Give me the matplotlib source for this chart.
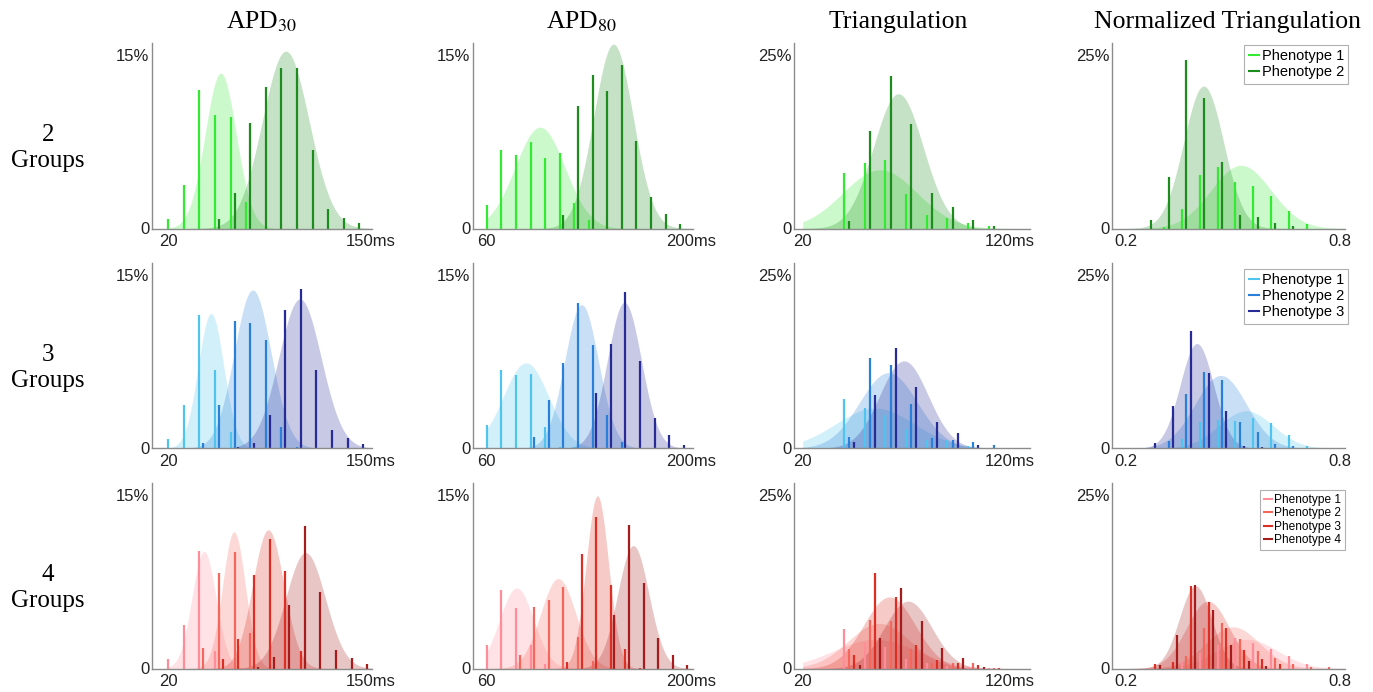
import numpy as np
import matplotlib
matplotlib.use('Agg')
import matplotlib.pyplot as plt
from matplotlib.lines import Line2D

plt.rcParams['font.family'] = ['Liberation Sans', 'DejaVu Sans']
plt.rcParams['mathtext.fontset'] = 'stix'

# bin positions (first phenotype) for each measure
apd30_bins = [20, 30, 40, 50, 60, 70, 80, 90, 100, 110, 120, 130, 140]
apd80_bins = [60, 70, 80, 90, 100, 110, 120, 130, 140, 150, 160, 170, 180, 190]
tri_bins = [40, 50, 60, 70, 80, 90, 100, 110]
ntri_bins = [0.257, 0.307, 0.357, 0.407, 0.457, 0.507, 0.557, 0.607, 0.657, 0.707, 0.757]

# bar heights in %, one list per phenotype
g2_apd30 = [[0.83, 3.79, 11.95, 9.8, 9.6, 2.3, 0, 0, 0, 0, 0, 0, 0],
            [0, 0, 0, 0.8, 3.1, 9.08, 12.2, 13.85, 13.85, 6.78, 1.7, 0.92, 0.49]]
g2_apd80 = [[2.07, 6.78, 6.35, 7.44, 6.12, 6.5, 2.2, 0.72, 0, 0, 0, 0, 0, 0],
            [0, 0, 0, 0, 0, 1.2, 10.6, 13.2, 11.87, 14.1, 7.56, 2.7, 1.26, 0.37]]
g2_tri = [[8.06, 9.41, 9.85, 5.0, 1.88, 1.54, 0.82, 0.34],
          [1.06, 14.0, 21.96, 15.1, 5.1, 3.1, 1.2, 0.43]]
g2_ntri = [[0, 0.2, 2.85, 7.7, 8.9, 6.67, 6.1, 4.7, 2.5, 0.58, 0],
           [1.2, 7.4, 24.2, 18.8, 9.6, 1.93, 1.6, 0.77, 0.34, 0, 0]]

g3_apd30 = [[0.78, 3.76, 11.47, 6.75, 1.45, 0, 0, 0, 0, 0, 0, 0, 0],
            [0, 0, 0.43, 3.76, 10.98, 10.8, 9.35, 1.88, 0.1, 0, 0, 0, 0],
            [0, 0, 0, 0, 0.1, 0.5, 2.84, 11.96, 13.76, 6.75, 1.62, 0.87, 0.38]]
g3_apd80 = [[2.03, 6.78, 6.37, 6.43, 1.85, 0.15, 0.15, 0, 0, 0, 0, 0, 0, 0],
            [0, 0, 0, 0.98, 4.2, 7.33, 12.57, 8.92, 2.9, 0.52, 0, 0, 0, 0],
            [0, 0, 0, 0, 0, 0, 0, 4.8, 9.0, 13.5, 7.53, 2.64, 1.16, 0.29]]
g3_tri = [[7.17, 5.78, 4.83, 2.77, 1.24, 1.24, 0.38, 0.1],
          [1.67, 13.05, 11.95, 6.45, 1.43, 1.2, 0.96, 0.53],
          [0.96, 7.65, 14.48, 8.8, 3.73, 2.25, 0.48, 0.05]]
g3_ntri = [[0, 0, 1.39, 3.73, 4.1, 3.97, 4.35, 3.6, 1.96, 0.38, 0],
           [0, 1.1, 7.8, 11.04, 9.85, 3.73, 2.4, 0.62, 0.38, 0, 0],
           [0.76, 6.1, 16.9, 10.8, 5.4, 0.38, 0.19, 0, 0, 0, 0]]

g4_apd30 = [[0.78, 3.76, 10.17, 1.53, 0, 0, 0, 0, 0, 0, 0, 0, 0],
            [0, 0, 1.77, 8.2, 10.05, 3.04, 0, 0, 0, 0, 0, 0, 0],
            [0, 0, 0, 0.78, 2.52, 8.05, 11.2, 8.4, 1.48, 0, 0, 0, 0],
            [0, 0, 0, 0, 0, 0.14, 0.96, 5.44, 12.3, 6.6, 1.59, 0.87, 0.38]]
g4_apd80 = [[2.03, 6.78, 5.19, 2.06, 0.4, 0, 0, 0, 0, 0, 0, 0, 0, 0],
            [0, 0, 1.13, 5.3, 5.93, 7.04, 2.72, 0.67, 0, 0, 0, 0, 0, 0],
            [0, 0, 0, 0, 0, 0.58, 9.9, 13.06, 7.18, 1.71, 0.06, 0, 0, 0],
            [0, 0, 0, 0, 0, 0, 0, 0, 4.6, 12.34, 7.39, 2.64, 1.16, 0.29]]
g4_tri = [[5.74, 3.63, 3.15, 1.43, 0.86, 0.38, 0.19, 0.05],
          [2.77, 6.98, 6.79, 2.87, 0.86, 0.86, 0.72, 0.1],
          [1.91, 13.72, 10.28, 3.35, 1.24, 0.72, 0.48, 0.05],
          [0.48, 4.35, 11.6, 6.79, 2.96, 1.58, 0.19, 0]]
g4_ntri = [[0, 0, 0.91, 2.16, 3.37, 4.42, 3.7, 2.74, 1.78, 0.58, 0],
           [0, 0, 1.78, 5.82, 6.49, 4.18, 2.5, 1.44, 0.58, 0.24, 0.24],
           [0.58, 0.91, 11.83, 9.62, 5.77, 2.64, 1.3, 0.58, 0, 0, 0],
           [0.53, 4.86, 12.02, 8.41, 3.37, 1.06, 0.3, 0, 0, 0, 0]]

# fitted normal curves: (mean, sd, peak %)
g2_apd30_fit = [(53.6, 10, 13.4), (95.3, 15, 15.3)]
g2_apd80_fit = [(96.5, 17, 8.74), (146.8, 13.5, 15.9)]
g2_tri_fit = [(57.4, 18, 8.45), (66.3, 12, 19.4)]
g2_ntri_fit = [(0.523, 0.084, 9.1), (0.418, 0.056, 20.5)]

g3_apd30_fit = [(47.4, 8.2, 11.64), (74.1, 11.8, 13.67), (104.4, 13.6, 12.9)]
g3_apd80_fit = [(86.9, 15.5, 7.38), (125, 11.6, 12.4), (154.3, 11.6, 12.6)]
g3_tri_fit = [(55, 19, 5.8), (61.5, 14, 10.9), (69, 11.7, 12.6)]
g3_ntri_fit = [(0.537, 0.076, 5.4), (0.466, 0.072, 10.5), (0.399, 0.047, 15.1)]

g4_apd30_fit = [(42.9, 7.7, 10.1), (62.1, 7.3, 11.8), (84.1, 10, 11.96), (108, 12.7, 10)]
g4_apd80_fit = [(80.5, 11.6, 6.95), (109, 12.1, 7.76), (135.8, 7.7, 14.9), (160.4, 10.7, 10.6)]
g4_tri_fit = [(55, 20, 4.2), (57, 15, 6.5), (62, 12.5, 10.3), (71, 11.5, 9.7)]
g4_ntri_fit = [(0.54, 0.085, 4.2), (0.5, 0.075, 6.0), (0.43, 0.06, 9.7), (0.395, 0.045, 11.9)]

titles = ['APD$_{30}$', 'APD$_{80}$', 'Triangulation', 'Normalized Triangulation']
row_labels = ['2\nGroups', '3\nGroups', '4\nGroups']
xtick_vals = [(20, 150), (60, 200), (20, 120), (0.2, 0.8)]
xtick_text = [('20', '150ms'), ('60', '200ms'), ('20', '120ms'), ('0.2', '0.8')]
ytick_top = [15, 15, 25, 25]

green = ['#33ea33', '#1c8c1c']
blue = ['#4ec4ef', '#2a80d8', '#272b96']
red = ['#ff8c99', '#f4675c', '#dc2e22', '#a61c1c']
row_colors = [green, blue, red]

col_bins = [apd30_bins, apd80_bins, tri_bins, ntri_bins]
heights = [[g2_apd30, g2_apd80, g2_tri, g2_ntri],
           [g3_apd30, g3_apd80, g3_tri, g3_ntri],
           [g4_apd30, g4_apd80, g4_tri, g4_ntri]]
fits = [[g2_apd30_fit, g2_apd80_fit, g2_tri_fit, g2_ntri_fit],
        [g3_apd30_fit, g3_apd80_fit, g3_tri_fit, g3_ntri_fit],
        [g4_apd30_fit, g4_apd80_fit, g4_tri_fit, g4_ntri_fit]]

# layout (pixels)
W, H = 1373, 692
col_px = [(152, 372), (473, 693), (794, 1030), (1112, 1345)]
row_px = [(43, 228.5), (263, 448.3), (483, 668.5)]
xlims = [(9.55, 150.6), (50.6, 201.3), (15.8, 130), (0.1606, 0.815)]
ylims = [16.0, 16.0, 26.7, 26.7]
title_x = [262, 582, 898, 1228]
label_y = [148, 368, 588]

fig = plt.figure(figsize=(W / 100, H / 100), dpi=100)

for r in range(3):
    colors = row_colors[r]
    for c in range(4):
        x0, x1 = col_px[c]
        y0, y1 = row_px[r]
        ax = fig.add_axes([x0 / W, 1 - y1 / H, (x1 - x0) / W, (y1 - y0) / H])
        bins = np.array(col_bins[c])
        step = bins[1] - bins[0]
        xs = np.linspace(xtick_vals[c][0], xlims[c][1], 400)
        # fitted curves behind the bars
        for i, (mu, sd, pk) in enumerate(fits[r][c]):
            ax.fill_between(xs, 0, pk * np.exp(-0.5 * ((xs - mu) / sd) ** 2),
                            color=colors[i], alpha=0.25, lw=0)
        # thin histogram bars, each phenotype shifted by a quarter bin
        for i, h in enumerate(heights[r][c]):
            h = np.array(h)
            keep = h > 0
            ax.vlines((bins + i * step * 0.25)[keep], 0, h[keep], color=colors[i],
                      lw=1.6, capstyle='butt')
        ax.set_xlim(*xlims[c])
        ax.set_ylim(0, ylims[c])
        ax.set_xticks(xtick_vals[c])
        ax.set_xticklabels(xtick_text[c])
        ax.set_yticks([0, ytick_top[c]])
        ax.set_yticklabels(['0', '%d%%' % ytick_top[c]])
        ax.tick_params(length=0, labelsize=12, colors='#222222')
        ax.tick_params(axis='x', pad=4)
        ax.tick_params(axis='y', pad=2)
        for s in ['top', 'right']:
            ax.spines[s].set_visible(False)
        for s in ['left', 'bottom']:
            ax.spines[s].set_color('#8c8c8c')
            ax.spines[s].set_linewidth(1.0)
        ax.patch.set_alpha(0)

        if c == 3:
            handles = [Line2D([0], [0], color=colors[i], lw=1.5) for i in range(len(colors))]
            labels = ['Phenotype %d' % (i + 1) for i in range(len(colors))]
            if r < 2:
                leg = ax.legend(handles, labels, loc='upper right', bbox_to_anchor=(1.015, 0.99 - 0.02 * r),
                                fontsize=10.5, handlelength=0.7, handletextpad=0.2, borderpad=0.3,
                                labelspacing=0.15, borderaxespad=0, fancybox=False, framealpha=1)
            else:
                leg = ax.legend(handles, labels, loc='upper right', bbox_to_anchor=(1.0, 0.96),
                                fontsize=8.6, handlelength=0.7, handletextpad=0.2, borderpad=0.3,
                                labelspacing=0.12, borderaxespad=0, fancybox=False, framealpha=1)
            leg.get_frame().set_edgecolor('#b0b0b0')
            leg.get_frame().set_linewidth(0.8)

for c in range(4):
    fig.text(title_x[c] / W, 1 - 22 / H, titles[c], ha='center', va='center',
             family='Liberation Serif', fontsize=18.5)
for r in range(3):
    fig.text(48 / W, 1 - label_y[r] / H, row_labels[r], ha='center', va='center',
             family='Liberation Serif', fontsize=18, linespacing=1.2)

fig.savefig('out.png', dpi=100)
